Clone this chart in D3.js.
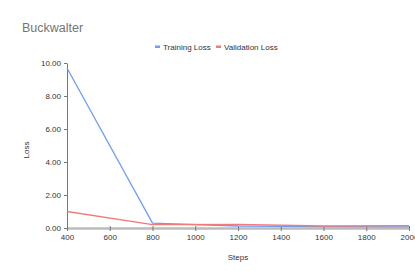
<!DOCTYPE html>
<html lang="en">
<head>
  <meta charset="UTF-8">
  <title>Buckwalter</title>
  <script src="https://cdn.jsdelivr.net/npm/d3@7"></script>
  <style>
    body { margin: 0; background: #fff; }
    svg text { font-family: 'Liberation Sans', Arial, sans-serif; }
  </style>
</head>
<body>
  <div id="canvas"></div>
  <script>
    const steps = [400, 800, 1200, 1600, 2000];
    const trainingLoss = [9.7, 0.3, 0.12, 0.08, 0.07];
    const validationLoss = [1.0, 0.2, 0.22, 0.12, 0.15];
    const xTicks = [400, 600, 800, 1000, 1200, 1400, 1600, 1800, 2000];
    const yTicks = [0, 2, 4, 6, 8, 10];
    const seriesNames = ['Training Loss', 'Validation Loss'];
    const colors = ['#6f9cf5', '#f07b78'];

    const width = 415;
    const height = 271;

    const svg = d3.select('#canvas')
      .append('svg')
      .attr('width', width)
      .attr('height', height);

    const scaleX = d3.scaleLinear().domain([400, 2000]).range([67, 409]);
    const scaleY = d3.scaleLinear().domain([0, 10]).range([228, 63]);

    svg.append('text')
      .attr('x', 22)
      .attr('y', 32)
      .style('font-size', '12.5px')
      .style('fill', '#757575')
      .text('Buckwalter');

    // legend
    const legend = svg.append('g').attr('transform', 'translate(155,47)');
    const lx = [0, 61];
    seriesNames.forEach((name, i) => {
      legend.append('rect')
        .attr('x', lx[i]).attr('y', -1.5)
        .attr('width', 5).attr('height', 2.5)
        .attr('fill', colors[i]);
      legend.append('text')
        .attr('x', lx[i] + 8).attr('y', 2.8)
        .style('font-size', '8px')
        .style('fill', '#333')
        .text(name);
    });

    // axes
    const yAxis = d3.axisLeft(scaleY)
      .tickValues(yTicks)
      .tickFormat(d3.format('.2f'))
      .tickSize(3)
      .tickSizeOuter(0);
    const gy = svg.append('g')
      .attr('transform', 'translate(67,0)')
      .call(yAxis);
    gy.select('.domain').attr('stroke', '#777');
    gy.selectAll('.tick line').attr('stroke', '#777');
    gy.selectAll('.tick text').style('font-size', '8px').style('fill', '#333').attr('x', -6);

    const xAxis = d3.axisBottom(scaleX)
      .tickValues(xTicks)
      .tickFormat(d3.format('d'))
      .tickSize(3)
      .tickSizeOuter(0);
    const gx = svg.append('g')
      .attr('transform', 'translate(0,228)')
      .call(xAxis);
    gx.select('.domain').attr('stroke', '#bbb').attr('stroke-width', 2.5);
    gx.selectAll('.tick line').attr('stroke', '#777').attr('y1', -2);
    gx.selectAll('.tick text').style('font-size', '8px').style('fill', '#333').attr('y', 6);

    svg.append('text')
      .attr('text-anchor', 'middle')
      .attr('transform', 'translate(29,150) rotate(-90)')
      .style('font-size', '8px')
      .style('fill', '#333')
      .text('Loss');
    svg.append('text')
      .attr('text-anchor', 'middle')
      .attr('x', 238)
      .attr('y', 260)
      .style('font-size', '8px')
      .style('fill', '#333')
      .text('Steps');

    const line = d3.line()
      .x((d, i) => scaleX(steps[i]))
      .y(d => scaleY(d));

    [trainingLoss, validationLoss].forEach((series, i) => {
      svg.append('path')
        .datum(series)
        .attr('fill', 'none')
        .attr('stroke', colors[i])
        .attr('stroke-width', 1.3)
        .attr('d', line);
    });
  </script>
</body>
</html>
